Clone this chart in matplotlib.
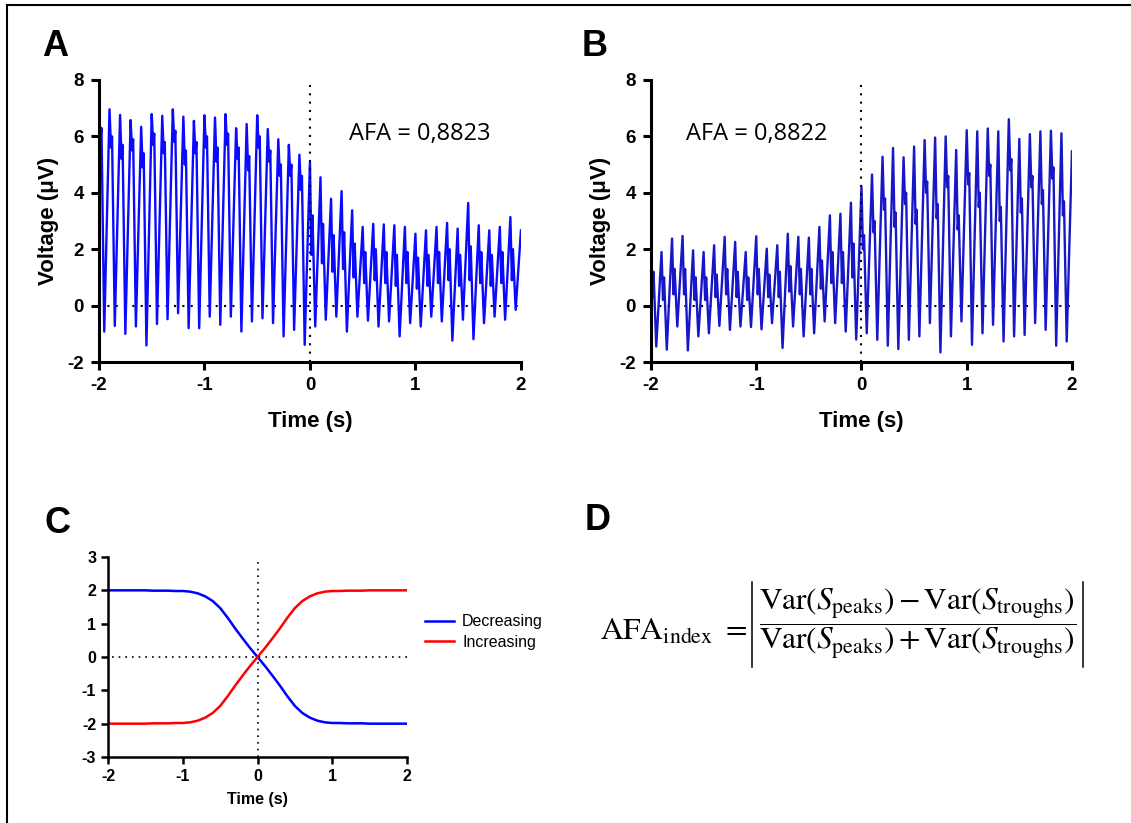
import numpy as np
import matplotlib
matplotlib.use("Agg")
import matplotlib.pyplot as plt
from matplotlib.lines import Line2D

# Panel A: peak/trough levels per 10 Hz cycle (uV)
a_peaks = [7.08, 6.96, 6.76, 6.58, 6.34, 6.79, 6.73, 6.96, 6.70, 6.55,
           6.75, 6.67, 6.79, 6.29, 6.44, 6.75, 6.26, 5.90, 5.70, 5.35,
           5.10, 4.55, 3.79, 4.06, 3.38, 2.79, 2.90, 2.88, 2.85, 2.79,
           2.55, 2.67, 2.79, 2.93, 2.73, 3.64, 2.85, 2.67, 2.79, 3.14, 2.67]
a_troughs = [-0.92, -0.72, -1.00, -0.74, -1.41, -0.65, -0.48, -0.27, -0.80, -0.80,
             -0.39, -0.68, -0.39, -0.92, -0.56, -0.45, -0.62, -1.09, -0.86, -1.39,
             -0.74, -0.50, -0.39, -0.92, -0.39, -0.53, -0.74, -0.56, -1.09, -0.62,
             -0.74, -0.39, -0.56, -1.24, -0.50, -1.19, -0.62, -0.39, -0.50, -0.15]
a_dips = [5.9, 5.6, 5.2, 5.5, 4.9, 5.7, 5.4, 5.8, 5.0, 5.4,
          5.6, 5.1, 5.7, 5.2, 4.8, 5.6, 5.1, 4.6, 4.6, 4.1,
          1.8, 1.5, 1.2, 1.3, 1.0, 0.8, 0.9, 0.8, 0.7, 0.8,
          0.6, 0.7, 0.8, 0.9, 0.7, 0.9, 0.8, 0.7, 0.8, 0.9]
a_humps = [6.3, 6.0, 5.7, 5.9, 5.4, 6.1, 5.8, 6.2, 5.5, 5.8,
           6.0, 5.6, 6.1, 5.6, 5.3, 6.0, 5.5, 5.0, 5.0, 4.6,
           3.2, 2.9, 2.5, 2.6, 2.2, 1.9, 2.0, 1.9, 1.8, 1.9,
           1.7, 1.8, 1.9, 2.0, 1.8, 2.1, 1.9, 1.8, 1.9, 2.0]

# Panel B
b_peaks = [2.22, 1.90, 2.38, 2.47, 1.96, 1.90, 2.14, 2.44, 2.26, 1.90,
           2.46, 2.02, 2.14, 2.55, 2.44, 2.41, 2.79, 3.20, 3.26, 3.65,
           4.22, 4.65, 5.28, 5.59, 5.26, 5.64, 5.87, 5.96, 6.00, 5.52,
           6.22, 6.18, 6.28, 6.18, 6.61, 5.91, 6.08, 6.18, 6.20, 6.11, 5.47]
b_troughs = [-1.45, -1.56, -0.74, -1.59, -1.09, -0.98, -0.72, -0.86, -0.74, -0.76,
             -0.84, -0.62, -1.50, -0.74, -1.09, -0.98, -0.56, -0.62, -0.92, -1.20,
             -0.98, -1.21, -1.42, -1.54, -1.21, -1.09, -0.62, -1.66, -1.09, -0.56,
             -1.39, -0.98, -0.68, -1.27, -1.09, -1.04, -0.62, -0.86, -1.42, -1.27]
b_dips = [0.3, 0.2, 0.4, 0.4, 0.2, 0.2, 0.3, 0.4, 0.3, 0.2,
          0.4, 0.3, 0.3, 0.5, 0.4, 0.4, 0.6, 0.8, 0.8, 1.0,
          2.0, 2.6, 3.4, 2.8, 3.6, 2.9, 4.0, 3.1, 4.2, 2.7,
          4.3, 3.5, 4.6, 3.0, 4.8, 3.3, 4.2, 3.6, 4.5, 3.2]
b_humps = [1.2, 1.0, 1.3, 1.3, 1.0, 1.0, 1.1, 1.3, 1.2, 1.0,
           1.3, 1.1, 1.2, 1.4, 1.3, 1.3, 1.6, 1.9, 1.9, 2.2,
           2.5, 3.0, 3.8, 3.3, 4.0, 3.4, 4.4, 3.6, 4.6, 3.2,
           4.7, 4.0, 5.0, 3.5, 5.2, 3.8, 4.6, 4.1, 4.9, 3.7]

afa_a = "AFA = 0,8823"
afa_b = "AFA = 0,8822"

# Panel C: model envelopes sampled every 0.1 s
c_time = [-2.0, -1.9, -1.8, -1.7, -1.6, -1.5, -1.4, -1.3, -1.2, -1.1,
          -1.0, -0.9, -0.8, -0.7, -0.6, -0.5, -0.4, -0.3, -0.2, -0.1,
          0.0, 0.1, 0.2, 0.3, 0.4, 0.5, 0.6, 0.7, 0.8, 0.9,
          1.0, 1.1, 1.2, 1.3, 1.4, 1.5, 1.6, 1.7, 1.8, 1.9, 2.0]
decreasing = [2.00, 2.00, 2.00, 2.00, 2.00, 2.00, 1.99, 1.99, 1.99, 1.98,
              1.98, 1.96, 1.91, 1.82, 1.68, 1.47, 1.18, 0.86, 0.56, 0.27,
              0.00, -0.27, -0.56, -0.86, -1.18, -1.47, -1.68, -1.82, -1.91, -1.96,
              -1.98, -1.98, -1.99, -1.99, -1.99, -2.00, -2.00, -2.00, -2.00, -2.00, -2.00]
increasing = [-2.00, -2.00, -2.00, -2.00, -2.00, -2.00, -1.99, -1.99, -1.99, -1.98,
              -1.98, -1.96, -1.91, -1.82, -1.68, -1.47, -1.18, -0.86, -0.56, -0.27,
              0.00, 0.27, 0.56, 0.86, 1.18, 1.47, 1.68, 1.82, 1.91, 1.96,
              1.98, 1.98, 1.99, 1.99, 1.99, 2.00, 2.00, 2.00, 2.00, 2.00, 2.00]

formula_left = r"$\mathrm{AFA}_{\mathrm{index}}\ =$"
formula_frac = (r"$\dfrac{\mathrm{Var}(S_{\mathrm{peaks}})-\mathrm{Var}(S_{\mathrm{troughs}})}"
                r"{\mathrm{Var}(S_{\mathrm{peaks}})+\mathrm{Var}(S_{\mathrm{troughs}})}$")

plt.rcParams['font.family'] = ['Liberation Sans', 'DejaVu Sans']
plt.rcParams['mathtext.fontset'] = 'stix'
plt.rcParams['axes.unicode_minus'] = False


def trace(peaks, troughs, dips, humps):
    # peak -> small dip -> secondary hump -> trough, one cycle every 0.1 s
    t, v = [], []
    for k in range(len(troughs)):
        t0 = -2.0 + 0.1 * k
        t += [t0, t0 + 0.014, t0 + 0.024, t0 + 0.05]
        v += [peaks[k], dips[k], humps[k], troughs[k]]
    t.append(-2.0 + 0.1 * len(troughs))
    v.append(peaks[-1])
    return np.array(t), np.array(v)


def style(ax, lw, tick_size):
    for s in ['top', 'right']:
        ax.spines[s].set_visible(False)
    for s in ['left', 'bottom']:
        ax.spines[s].set_linewidth(lw)
    ax.tick_params(direction='out', length=6, width=lw, labelsize=tick_size, pad=5)
    for lab in ax.get_xticklabels() + ax.get_yticklabels():
        lab.set_fontweight('bold')


fig = plt.figure(figsize=(11.31, 8.23), dpi=100)

dot = (0, (1, 3))
panels = [
    ([0.0875, 0.5601, 0.3731, 0.3427], (a_peaks, a_troughs, a_dips, a_humps), '#0a0aff', afa_a, 0.37),
    ([0.5756, 0.5601, 0.3722, 0.3427], (b_peaks, b_troughs, b_dips, b_humps), '#1717c8', afa_b, -1.67),
]
for rect, series, col, afa, tx in panels:
    ax = fig.add_axes(rect)
    t, v = trace(*series)
    ax.axhline(0, color='black', lw=1.5, ls=dot, zorder=1)
    ax.plot(t, v, color=col, lw=1.7, zorder=2)
    ax.axvline(0, color='black', lw=1.5, ls=dot, zorder=3)
    ax.set_xlim(-2, 2)
    ax.set_ylim(-2, 8)
    ax.set_xticks([-2, -1, 0, 1, 2])
    ax.set_yticks([-2, 0, 2, 4, 6, 8])
    style(ax, 2.2, 13.5)
    ax.set_xlabel('Time (s)', fontsize=16, fontweight='bold', labelpad=12)
    ax.set_ylabel('Voltage (\u03bcV)', fontsize=16, fontweight='bold', labelpad=6)
    ax.text(tx, 6.1, afa, fontsize=17, family=['Open Sans', 'DejaVu Sans'],
            ha='left', va='center')

axc = fig.add_axes([0.0955, 0.0802, 0.2644, 0.2430])
axc.plot([-1.95, 2], [0, 0], color='black', lw=1.2, ls=dot, zorder=1)
axc.axvline(0, color='black', lw=1.2, ls=dot, zorder=1)
axc.plot(c_time, decreasing, color='#0000ff', lw=1.8, label='Decreasing', zorder=2)
axc.plot(c_time, increasing, color='#ff0000', lw=1.8, label='Increasing', zorder=2)
axc.set_xlim(-2, 2)
axc.set_ylim(-3, 3)
axc.set_xticks([-2, -1, 0, 1, 2])
axc.set_yticks([-3, -2, -1, 0, 1, 2, 3])
style(axc, 1.8, 11.5)
axc.tick_params(length=5, pad=3.5)
axc.set_xlabel('Time (s)', fontsize=11.5, fontweight='bold', labelpad=6)
axc.legend(loc='center left', bbox_to_anchor=(0.369, 0.232), bbox_transform=fig.transFigure,
           frameon=False, fontsize=11.5, handlelength=1.8, handletextpad=0.5,
           borderpad=0, labelspacing=0.35)

# panel D formula
fig.text(747 / 1131, 1 - 640 / 823, formula_left, fontsize=22.5, ha='right', va='baseline')
fig.text(918 / 1131, 1 - 624 / 823, formula_frac, fontsize=22.5, ha='center', va='center')
for xb in [752, 1083]:
    fig.add_artist(Line2D([xb / 1131, xb / 1131], [1 - 582 / 823, 1 - 667 / 823],
                          color='black', lw=1.1))

for lab, x, y in [('A', 42, 56), ('B', 582, 56), ('C', 45, 533), ('D', 585, 530)]:
    fig.text(x / 1131, 1 - y / 823, lab, fontsize=26, fontweight='bold', va='baseline', ha='left')

# frame lines along top and left edges
fig.add_artist(Line2D([7 / 1131, 1], [1 - 5 / 823, 1 - 5 / 823], color='black', lw=1.5))
fig.add_artist(Line2D([7 / 1131, 7 / 1131], [0, 1 - 5 / 823], color='black', lw=1.5))

fig.savefig('out.png', dpi=100)
